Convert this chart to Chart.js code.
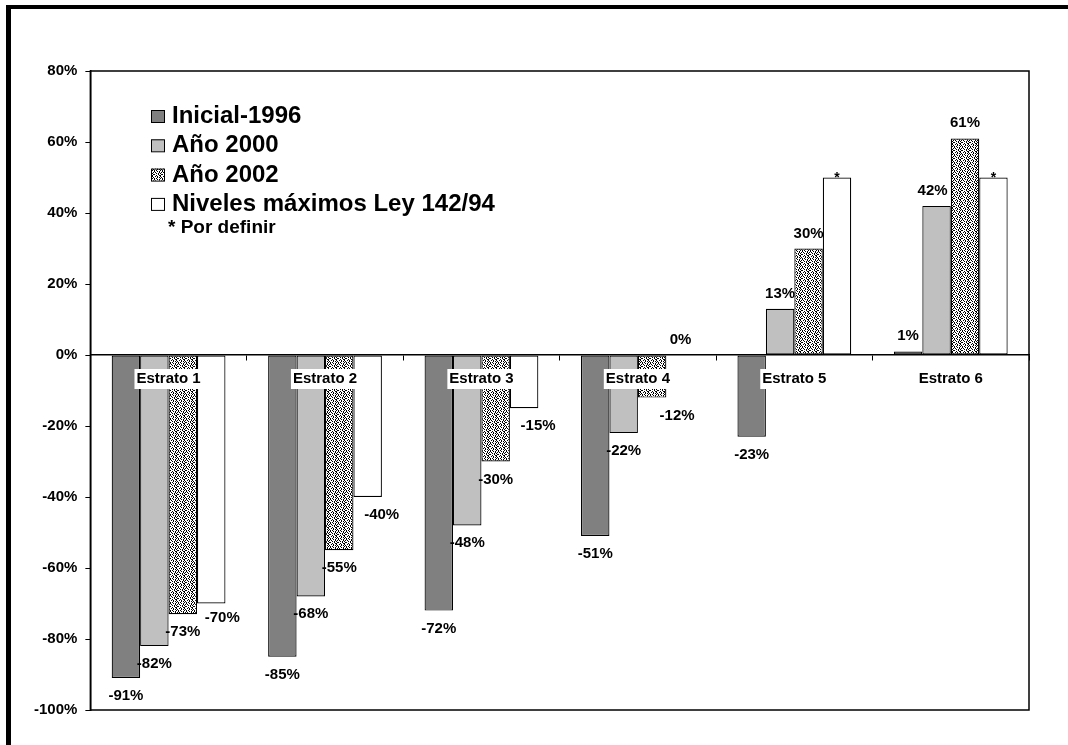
<!DOCTYPE html>
<html lang="es">
<head>
<meta charset="utf-8">
<title>Estratos - variación de tarifas</title>
<script src="https://cdn.jsdelivr.net/npm/chart.js@4.4.1/dist/chart.umd.min.js"></script>
<style>
    html, body { margin: 0; padding: 0; background: #fff; overflow: hidden; }
    .chart-container { position: absolute; left: 0; top: 0; width: 1068px; height: 745px; }
    /* Marco exterior: solo se ve el borde izquierdo y el superior */
    .frame {
        position: absolute; left: 6px; top: 5px; width: 2000px; height: 2000px;
        border-left: 5px solid #000; border-top: 4px solid #000; pointer-events: none;
    }
</style>
</head>
<body>
<div class="frame"></div>
<div class="chart-container"><canvas id="tarifasChart"></canvas></div>
<script>
// --- DATOS ---
const categorias = ['Estrato 1', 'Estrato 2', 'Estrato 3', 'Estrato 4', 'Estrato 5', 'Estrato 6'];
const inicial1996 = [-91, -85, -72, -51, -23, 1];
const anio2000 = [-82, -68, -48, -22, 13, 42];
const anio2002 = [-73, -55, -30, -12, 30, 61];
const nivelesMaximos = [-70, -40, -15, 0, 50, 50];
// Niveles que la ley deja "por definir" (se rotulan con *)
const porDefinir = [false, false, false, false, true, true];
const nombresSeries = ['Inicial-1996', 'Año 2000', 'Año 2002', 'Niveles máximos Ley 142/94'];
const ticksY = { min: -100, max: 80, step: 20 };

// Pequeños desplazamientos manuales de algunos rótulos (como en el original)
const ajustesRotulo = {
    '3-0': { dx: 11, dy: -4 },
    '3-1': { dx: 14, dy: 0 },
    '3-2': { dx: 14, dy: 0 },
    '2-3': { dx: 25, dy: 0 },
    '1-5': { dx: -4, dy: 0 },
};

const FUENTE = "'Liberation Sans', Arial, sans-serif";

/**
 * Crea la trama punteada usada para la serie "Año 2002".
 */
function crearTramaPunteada() {
    const filas = [
        'x..x.x..',
        '.x...x.x',
        'x.x.x...',
        '..x..x.x',
        '.x.x...x',
        'x...x.x.',
        '.xx...x.',
        'x...x..x',
    ];
    const c = document.createElement('canvas');
    c.width = 8; c.height = 8;
    const g = c.getContext('2d');
    g.fillStyle = '#fff';
    g.fillRect(0, 0, 8, 8);
    g.fillStyle = '#000';
    filas.forEach((fila, y) => {
        [...fila].forEach((ch, x) => { if (ch === 'x') g.fillRect(x, y, 1, 1); });
    });
    return g.createPattern(c, 'repeat');
}

// Dibuja el borde completo del área de trazado
const bordeArea = {
    id: 'bordeArea',
    afterDraw(chart) {
        const { ctx, chartArea: a } = chart;
        ctx.save();
        ctx.strokeStyle = '#000';
        ctx.lineWidth = 1.5;
        ctx.strokeRect(a.left, a.top, a.right - a.left, a.bottom - a.top);
        ctx.restore();
    }
};

// Rótulos de valor en el extremo de cada barra
const rotulosValor = {
    id: 'rotulosValor',
    afterDatasetsDraw(chart) {
        const { ctx } = chart;
        ctx.save();
        ctx.fillStyle = '#000';
        ctx.textAlign = 'center';
        ctx.textBaseline = 'alphabetic';
        chart.data.datasets.forEach((ds, di) => {
            chart.getDatasetMeta(di).data.forEach((barra, i) => {
                const v = ds.data[i];
                const ajuste = ajustesRotulo[`${di}-${i}`] || { dx: 0, dy: 0 };
                const x = barra.x + ajuste.dx;
                if (di === 3 && porDefinir[i]) {
                    ctx.font = `bold 14px ${FUENTE}`;
                    ctx.fillText('*', x, barra.y + 4);
                    return;
                }
                ctx.font = `bold 15px ${FUENTE}`;
                const y = v >= 0 ? barra.y - 11 : barra.y + 22;
                ctx.fillText(`${v}%`, x, y + ajuste.dy);
            });
        });
        ctx.restore();
    }
};

// Leyenda dentro del área de trazado, arriba a la izquierda
const leyendaInterna = {
    id: 'leyendaInterna',
    afterDraw(chart) {
        const { ctx } = chart;
        ctx.save();
        ctx.textAlign = 'left';
        ctx.textBaseline = 'alphabetic';
        chart.data.datasets.forEach((ds, di) => {
            const base = 123 + di * 29.3;
            ctx.fillStyle = ds.backgroundColor;
            ctx.fillRect(151, base - 13, 13, 12);
            ctx.strokeStyle = '#000';
            ctx.lineWidth = 1;
            ctx.strokeRect(151.5, base - 12.5, 13, 12);
            ctx.fillStyle = '#000';
            ctx.font = `bold 24px ${FUENTE}`;
            ctx.fillText(ds.label, 172, base);
        });
        ctx.font = `bold 19px ${FUENTE}`;
        ctx.fillText('* Por definir', 168, 233);
        ctx.restore();
    }
};

function renderGrafico() {
    const ctx = document.getElementById('tarifasChart').getContext('2d');
    const colores = ['#808080', '#c0c0c0', crearTramaPunteada(), '#ffffff'];
    const series = [inicial1996, anio2000, anio2002, nivelesMaximos];

    new Chart(ctx, {
        type: 'bar',
        data: {
            labels: categorias,
            datasets: series.map((datos, i) => ({
                label: nombresSeries[i],
                data: datos,
                backgroundColor: colores[i],
                borderColor: '#000',
                borderWidth: 1.2,
                borderSkipped: false,
                categoryPercentage: 4 / 5.5,
                barPercentage: 1,
            }))
        },
        options: {
            responsive: true,
            maintainAspectRatio: false,
            animation: false,
            devicePixelRatio: 1,
            layout: { padding: { left: 26, top: 71, right: 39, bottom: 35 } },
            plugins: {
                legend: { display: false },
                tooltip: { enabled: false }
            },
            scales: {
                x: {
                    type: 'category',
                    position: { y: 0 },
                    offset: true,
                    grid: { offset: true, drawOnChartArea: false, drawTicks: true, tickLength: 5, color: '#000', lineWidth: 1 },
                    border: { display: true, color: '#000', width: 1.5, z: 1 },
                    ticks: {
                        color: '#000',
                        font: { family: FUENTE, size: 15, weight: 'bold' },
                        padding: 10,
                        maxRotation: 0,
                        autoSkip: false,
                        showLabelBackdrop: true,
                        backdropColor: '#fff',
                        backdropPadding: { top: 1, bottom: 1, left: 2, right: 2 },
                        z: 1
                    }
                },
                y: {
                    min: ticksY.min,
                    max: ticksY.max,
                    grid: { drawOnChartArea: false, drawTicks: true, tickLength: 5, color: '#000', lineWidth: 1 },
                    border: { display: true, color: '#000', width: 1.5 },
                    ticks: {
                        stepSize: ticksY.step,
                        color: '#000',
                        font: { family: FUENTE, size: 15, weight: 'bold' },
                        padding: 8,
                        callback: v => `${v}%`
                    }
                }
            }
        },
        plugins: [bordeArea, rotulosValor, leyendaInterna]
    });
}

document.addEventListener('DOMContentLoaded', renderGrafico);
</script>
</body>
</html>
